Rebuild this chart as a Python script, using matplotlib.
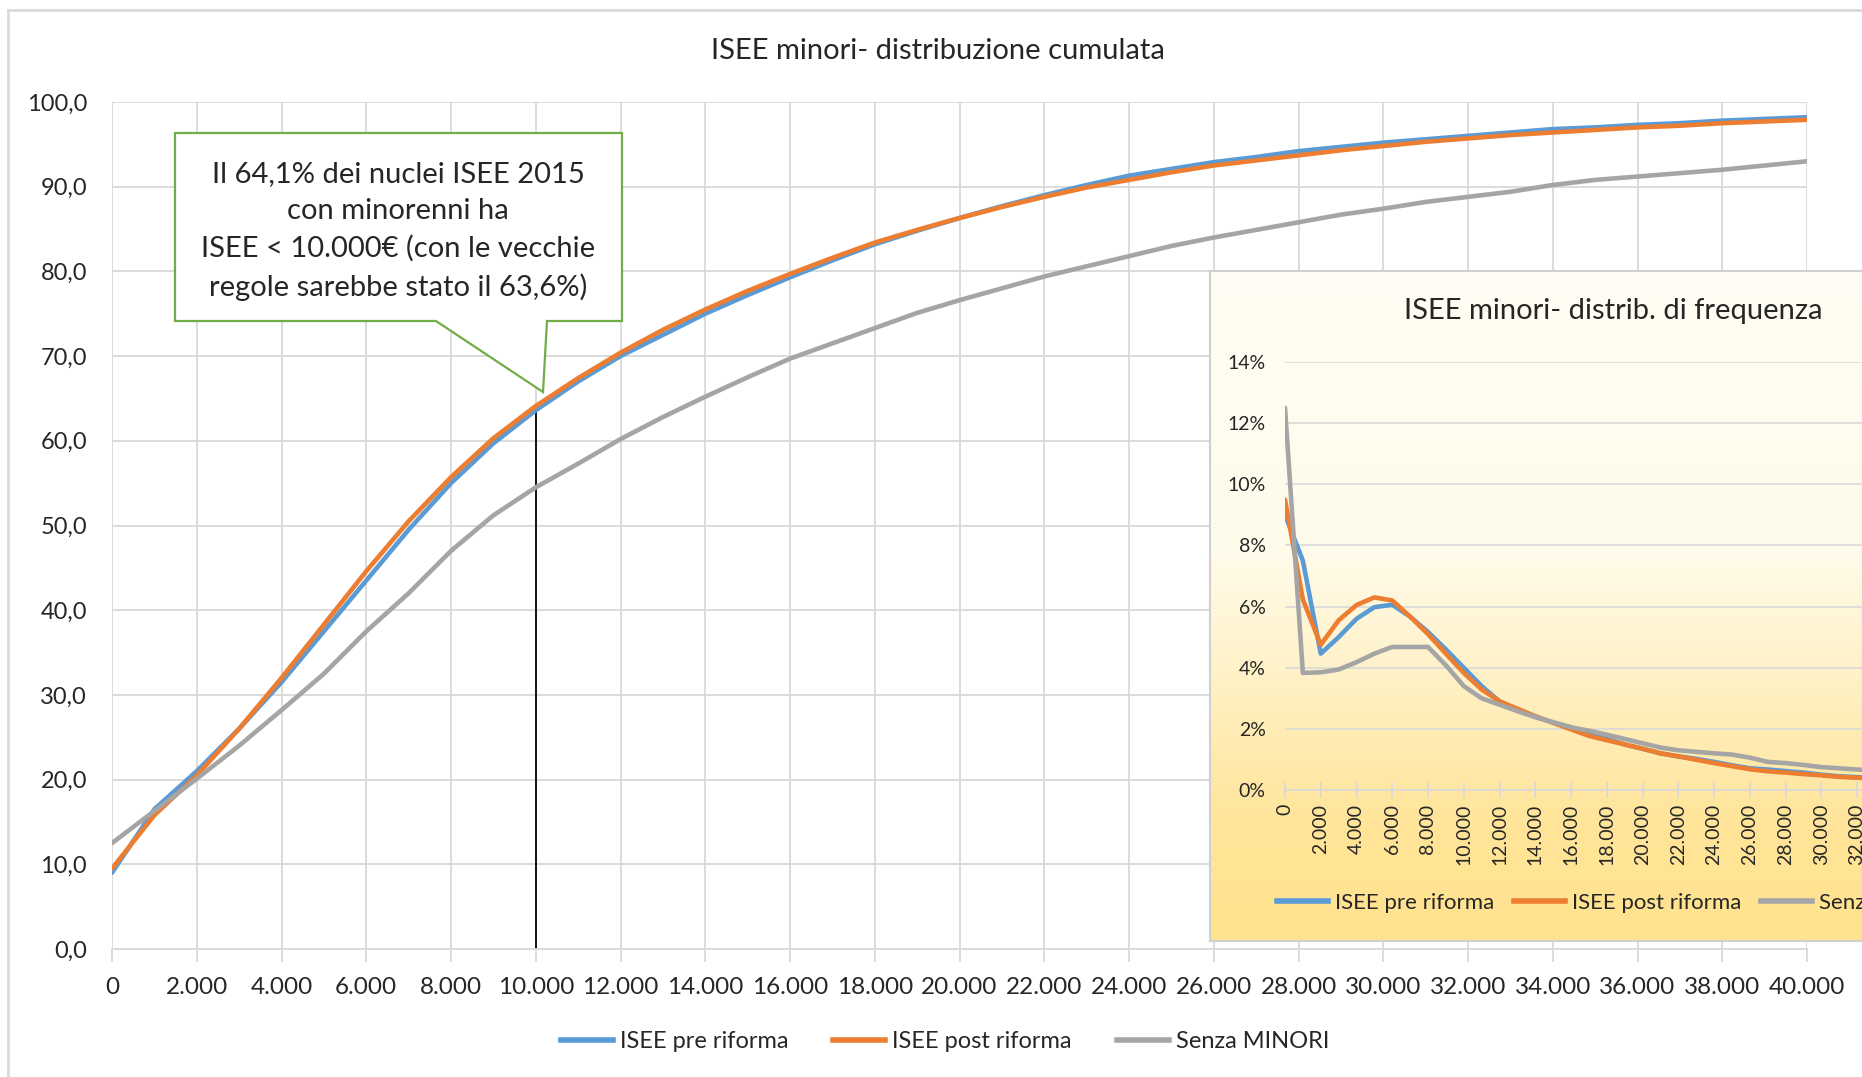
import numpy as np
import matplotlib.pyplot as plt
from matplotlib.colors import LinearSegmentedColormap
from matplotlib.patches import Polygon
from matplotlib.lines import Line2D

plt.rcParams['font.family'] = ['Lato', 'DejaVu Sans']

# soglie ISEE (euro), passo 1000
isee = list(range(0, 40001, 1000))

# distribuzione cumulata (%)
cum_pre = [9.0, 16.5, 21.0, 26.0, 31.5, 37.5, 43.5, 49.5, 55.0, 59.7, 63.6,
           67.0, 70.0, 72.5, 75.0, 77.2, 79.3, 81.3, 83.2, 84.8, 86.3,
           87.7, 89.0, 90.2, 91.3, 92.1, 92.9, 93.5, 94.2, 94.7, 95.2,
           95.6, 96.0, 96.4, 96.8, 97.0, 97.3, 97.5, 97.8, 98.0, 98.2]
cum_post = [9.5, 15.8, 20.5, 26.0, 32.0, 38.3, 44.6, 50.5, 55.7, 60.3, 64.1,
            67.4, 70.4, 73.1, 75.5, 77.7, 79.7, 81.6, 83.4, 84.9, 86.3,
            87.6, 88.8, 89.9, 90.8, 91.7, 92.5, 93.1, 93.7, 94.3, 94.8,
            95.3, 95.7, 96.1, 96.4, 96.7, 97.0, 97.2, 97.5, 97.7, 97.9]
cum_senza = [12.5, 16.3, 20.1, 24.0, 28.2, 32.5, 37.5, 42.0, 47.0, 51.2, 54.5,
             57.3, 60.2, 62.8, 65.2, 67.5, 69.7, 71.5, 73.3, 75.1, 76.6,
             78.0, 79.4, 80.6, 81.8, 83.0, 84.0, 84.9, 85.8, 86.7, 87.4,
             88.2, 88.8, 89.4, 90.2, 90.8, 91.2, 91.6, 92.0, 92.5, 93.0]

# distribuzione di frequenza (%)
freq_pre = [9.0, 7.5, 4.46, 5.0, 5.6, 5.98, 6.06, 5.67, 5.17, 4.6, 4.0,
            3.4, 2.9, 2.62, 2.41, 2.2, 2.05, 1.84, 1.67, 1.49, 1.35,
            1.2, 1.1, 1.02, 0.92, 0.81, 0.71, 0.67, 0.62, 0.57, 0.5,
            0.45, 0.42, 0.40, 0.38, 0.35, 0.33, 0.31, 0.29, 0.27, 0.26]
freq_post = [9.5, 6.23, 4.75, 5.55, 6.05, 6.3, 6.2, 5.67, 5.1, 4.46, 3.83,
             3.29, 2.9, 2.66, 2.41, 2.2, 1.98, 1.77, 1.63, 1.49, 1.35,
             1.2, 1.1, 0.99, 0.88, 0.78, 0.68, 0.61, 0.57, 0.52, 0.48,
             0.43, 0.4, 0.38, 0.36, 0.34, 0.32, 0.30, 0.28, 0.26, 0.25]
freq_senza = [12.5, 3.83, 3.85, 3.94, 4.18, 4.46, 4.68, 4.68, 4.68, 4.08, 3.4,
              3.0, 2.79, 2.58, 2.38, 2.22, 2.05, 1.94, 1.81, 1.67, 1.53,
              1.39, 1.3, 1.25, 1.2, 1.16, 1.06, 0.92, 0.88, 0.82, 0.75,
              0.71, 0.67, 0.64, 0.60, 0.57, 0.53, 0.50, 0.47, 0.45, 0.43]

labels = ['ISEE pre riforma', 'ISEE post riforma', 'Senza MINORI']
colors = ['#5B9BD5', '#ED7D31', '#A5A5A5']

soglia = 10000
quota_soglia = 64.1
nota = ("Il 64,1% dei nuclei ISEE 2015\ncon minorenni ha\n"
        "ISEE < 10.000€ (con le vecchie\nregole sarebbe stato il 63,6%)")

W, H = 1862, 1077
fig = plt.figure(figsize=(W / 100, H / 100), dpi=100)


def fx(px):
    return px / W


def fy(py):
    return 1 - py / H


txt = '#262626'
grid = '#D9D9D9'

# --- grafico principale
ax = fig.add_axes([fx(112), fy(949), fx(1807) - fx(112), fy(102) - fy(949)])
for y, c, l in zip([cum_pre, cum_post, cum_senza], colors, labels):
    ax.plot(isee, y, color=c, lw=3.3, label=l, solid_capstyle='round', zorder=3)
ax.plot([soglia, soglia], [0, quota_soglia], color='black', lw=1.3, zorder=2)
ax.set_xlim(0, 40000)
ax.set_ylim(0, 100)
xt = list(range(0, 40001, 2000))
ax.set_xticks(xt)
ax.set_xticklabels([f"{v:,}".replace(',', '.') for v in xt])
yt = list(range(0, 101, 10))
ax.set_yticks(yt)
ax.set_yticklabels([f"{v:.1f}".replace('.', ',') for v in yt])
ax.grid(True, color=grid, lw=1.3, zorder=0)
ax.set_axisbelow(True)
for s in ['top', 'right', 'left']:
    ax.spines[s].set_visible(False)
ax.spines['bottom'].set_color(grid)
ax.spines['bottom'].set_linewidth(1.3)
ax.tick_params(axis='y', length=0, pad=18, labelsize=17, labelcolor=txt)
ax.tick_params(axis='x', length=9, width=1.3, color=grid, pad=11,
               labelsize=17.5, labelcolor=txt)

fig.text(fx(938), fy(51), 'ISEE minori- distribuzione cumulata',
         ha='center', va='center', fontsize=21, color=txt)

handles = [Line2D([], [], color=c, lw=4) for c in colors]
fig.legend(handles, labels, loc='center', bbox_to_anchor=(fx(945), fy(1042)),
           ncol=3, frameon=False, fontsize=17, handlelength=2.2,
           handletextpad=0.3, columnspacing=1.9, labelcolor=txt)

# --- fumetto
pts = [(175, 133), (622, 133), (622, 321), (547, 321), (543, 392),
       (436, 321), (175, 321)]
fig.patches.append(Polygon([(fx(a), fy(b)) for a, b in pts], closed=True,
                           transform=fig.transFigure, facecolor='white',
                           edgecolor='#70AD47', lw=1.6, zorder=5))
fig.text(fx(398), fy(231), nota, ha='center', va='center', fontsize=21,
         linespacing=1.5, color=txt, zorder=6)

# --- riquadro frequenze
bg = fig.add_axes([fx(1210), fy(941), fx(1900) - fx(1210), fy(271) - fy(941)],
                  zorder=4)
cmap = LinearSegmentedColormap.from_list(
    'giallo', [(0.0, '#FFE38E'), (0.18, '#FFE59A'), (0.4, '#FFF2C8'),
               (0.58, '#FFFBEA'), (1.0, '#FFFDF4')])
bg.imshow(np.linspace(0, 1, 256)[:, None], aspect='auto', cmap=cmap,
          extent=[0, 1, 0, 1], origin='lower')
bg.set_xticks([])
bg.set_yticks([])
for s in bg.spines.values():
    s.set_color('#D0D0D0')
    s.set_linewidth(1.5)

ia = fig.add_axes([fx(1285), fy(790), fx(2000) - fx(1285), fy(362) - fy(790)],
                  zorder=5)
ia.patch.set_alpha(0)
for y, c in zip([freq_pre, freq_post, freq_senza], colors):
    ia.plot(isee, y, color=c, lw=3.3, solid_capstyle='round', zorder=3)
ia.set_xlim(0, 40000)
ia.set_ylim(0, 14)
ia.set_xticks(xt)
ia.set_xticklabels([f"{v:,}".replace(',', '.') for v in xt], rotation=90)
ia.set_yticks(range(0, 15, 2))
ia.set_yticklabels([f"{v}%" for v in range(0, 15, 2)])
ia.grid(True, axis='y', color=grid, lw=1.2, zorder=0)
for s in ['top', 'right', 'left']:
    ia.spines[s].set_visible(False)
ia.spines['bottom'].set_color(grid)
ia.spines['bottom'].set_linewidth(1.3)
ia.tick_params(axis='y', length=0, pad=14, labelsize=14, labelcolor=txt)
ia.tick_params(axis='x', length=12, direction='inout', width=1.3, color=grid,
               pad=4, labelsize=14, labelcolor=txt)

fig.text(fx(1613), fy(311), 'ISEE minori- distrib. di frequenza',
         ha='center', va='center', fontsize=21, color=txt, zorder=6)

ia.legend(handles, labels, loc='center left', bbox_to_anchor=(fx(1277), fy(903)),
          bbox_transform=fig.transFigure, ncol=3, frameon=False, fontsize=16,
          handlelength=2.3, handletextpad=0.3, columnspacing=0.9,
          borderpad=0, borderaxespad=0, labelcolor=txt)

# cornice esterna
fig.add_artist(Line2D([fx(8), fx(8)], [fy(10), 0], color=grid, lw=2))
fig.add_artist(Line2D([fx(8), 1], [fy(10), fy(10)], color=grid, lw=2))

fig.savefig('out.png', dpi=100)
